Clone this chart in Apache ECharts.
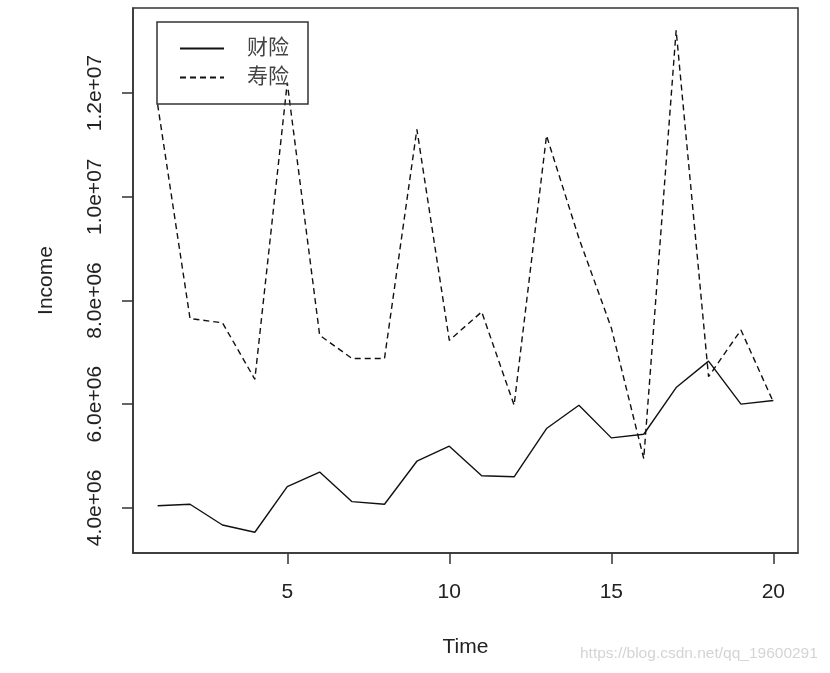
<!DOCTYPE html>
<html>
<head>
<meta charset="utf-8">
<script src="https://cdn.jsdelivr.net/npm/echarts@6/dist/echarts.min.js"></script>
<style>
  html, body { margin: 0; padding: 0; background: #fff; }
  #main { width: 830px; height: 673px; }
</style>
</head>
<body>
<div id="main"></div>
<script>
// 时间 1..20
const time = [1, 2, 3, 4, 5, 6, 7, 8, 9, 10, 11, 12, 13, 14, 15, 16, 17, 18, 19, 20];
// 财险收入
const caixian = [4.04e6, 4.07e6, 3.67e6, 3.53e6, 4.41e6, 4.69e6, 4.12e6, 4.07e6, 4.90e6, 5.19e6,
                 4.62e6, 4.60e6, 5.53e6, 5.98e6, 5.35e6, 5.42e6, 6.32e6, 6.83e6, 6.00e6, 6.07e6];
// 寿险收入
const shouxian = [11.78e6, 7.65e6, 7.57e6, 6.48e6, 12.2e6, 7.33e6, 6.88e6, 6.88e6, 11.30e6, 7.23e6,
                  7.78e6, 5.98e6, 11.18e6, 9.2e6, 7.47e6, 4.95e6, 13.21e6, 6.53e6, 7.43e6, 6.04e6];
// 刻度
const xTicks = [5, 10, 15, 20];
const yTicks = [4e6, 6e6, 8e6, 10e6, 12e6];
const yTickLabels = ['4.0e+06', '6.0e+06', '8.0e+06', '1.0e+07', '1.2e+07'];

const font = 'Liberation Sans, Arial, Noto Sans CJK SC, sans-serif';
const ink = '#222';

const myChart = echarts.init(document.getElementById('main'));

const option = {
    animation: false,
    backgroundColor: '#fff',
    grid: {
        left: 133, right: 32, top: 8, bottom: 120,
        show: true, borderColor: '#333', borderWidth: 1.5, backgroundColor: 'transparent'
    },
    legend: {
        left: 157, top: 22,
        orient: 'vertical',
        borderColor: '#333', borderWidth: 1.5,
        padding: [16, 19, 16, 22],
        itemWidth: 44, itemHeight: 14, itemGap: 8,
        // 图例里只要线，不要圆点
        itemStyle: { color: 'rgba(0,0,0,0)', borderWidth: 0 },
        textStyle: { fontSize: 21, color: '#444', fontFamily: font, padding: [0, 0, 0, 18] },
        data: ['财险', '寿险']
    },
    xAxis: {
        type: 'value',
        min: 0.24, max: 20.76,
        name: 'Time', nameLocation: 'middle', nameGap: 84,
        nameTextStyle: { fontSize: 21, color: ink, fontFamily: font },
        splitLine: { show: false },
        axisLine: { show: true, lineStyle: { color: '#333', width: 1.5 } },
        axisTick: { show: true, inside: false, length: 11, customValues: xTicks,
                    lineStyle: { color: '#333', width: 1.5 } },
        axisLabel: { customValues: xTicks, margin: 29, fontSize: 21, color: ink, fontFamily: font }
    },
    yAxis: {
        type: 'value',
        min: 3.13e6, max: 13.64e6,
        name: 'Income', nameLocation: 'middle', nameRotate: 90, nameGap: 76,
        nameTextStyle: { fontSize: 21, color: ink, fontFamily: font },
        splitLine: { show: false },
        axisLine: { show: true, lineStyle: { color: '#333', width: 1.5 } },
        axisTick: { show: true, inside: false, length: 11, customValues: yTicks,
                    lineStyle: { color: '#333', width: 1.5 } },
        axisLabel: {
            customValues: yTicks, rotate: 90, margin: 27,
            fontSize: 21, color: ink, fontFamily: font,
            formatter: function (v) {
                const i = yTicks.indexOf(v);
                return i >= 0 ? yTickLabels[i] : '';
            }
        }
    },
    graphic: [{
        type: 'text', left: 580, top: 646,
        style: { text: 'https://blog.csdn.net/qq_19600291', fill: '#d4d4d4',
                 font: '15.5px Liberation Sans, Arial, sans-serif' }
    }],
    series: [
        {
            name: '财险', type: 'line', symbol: 'none',
            data: time.map((t, i) => [t, caixian[i]]),
            lineStyle: { color: '#111', width: 1.4, type: 'solid' },
            itemStyle: { color: '#111' }
        },
        {
            name: '寿险', type: 'line', symbol: 'none',
            data: time.map((t, i) => [t, shouxian[i]]),
            lineStyle: { color: '#111', width: 1.4, type: [6, 4] },
            itemStyle: { color: '#111' }
        }
    ]
};

option && myChart.setOption(option);
</script>
</body>
</html>
